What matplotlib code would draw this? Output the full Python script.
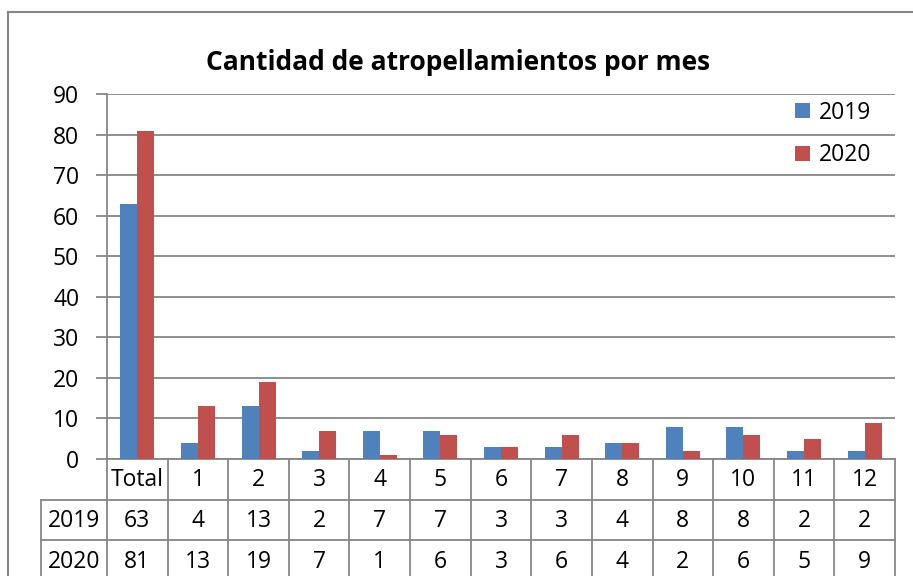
import numpy as np
import matplotlib.pyplot as plt
from matplotlib.lines import Line2D
from matplotlib.transforms import blended_transform_factory

plt.rcParams['font.family'] = ['Open Sans', 'DejaVu Sans']

categories = ['Total', '1', '2', '3', '4', '5', '6', '7', '8', '9', '10', '11', '12']
series_names = ['2019', '2020']
v2019 = [63, 4, 13, 2, 7, 7, 3, 3, 4, 8, 8, 2, 2]
v2020 = [81, 13, 19, 7, 1, 6, 3, 6, 4, 2, 6, 5, 9]
colors = ['#4F81BD', '#C0504D']
grid_col = '#868686'
fs = 16.5

W, H = 913, 576
fig = plt.figure(figsize=(W / 100, H / 100), dpi=100)
# plot area in pixels: x 107..895, y 94..459
ax = fig.add_axes([107 / W, (H - 459) / H, (895 - 107) / W, (459 - 94) / H])

x = np.arange(len(categories))
bw = 0.28
ax.bar(x - bw / 2, v2019, bw, color=colors[0], label=series_names[0], zorder=3)
ax.bar(x + bw / 2, v2020, bw, color=colors[1], label=series_names[1], zorder=3)

ax.set_xlim(-0.5, len(categories) - 0.5)
ax.set_ylim(0, 90)
ax.set_yticks(range(0, 91, 10))
ax.yaxis.grid(True, color=grid_col, lw=1.3, zorder=0)
ax.set_xticks([])
ax.tick_params(axis='y', length=8, width=1.3, color=grid_col, labelsize=fs, pad=12)
for s in ['top', 'right']:
    ax.spines[s].set_visible(False)
for s in ['left', 'bottom']:
    ax.spines[s].set_color(grid_col)
    ax.spines[s].set_linewidth(1.3)

ax.text(0.445, 1 + 31 / 365, 'Cantidad de atropellamientos por mes', fontsize=19,
        fontweight='bold', ha='center', va='center', transform=ax.transAxes)

leg = ax.legend(loc='upper right', bbox_to_anchor=(0.970, 0.981), frameon=False, fontsize=fs,
                borderaxespad=0, borderpad=0,
                handlelength=0.62, handleheight=0.62, handletextpad=0.4, labelspacing=0.8)

# data table below the axis
tr = blended_transform_factory(ax.transData, ax.transAxes)
rh = 40.5 / (459 - 94)
n = len(categories)
edges = np.arange(n + 1) - 0.5
lkw = dict(color=grid_col, lw=1.3, transform=tr, clip_on=False)
for e in edges:
    ax.add_line(Line2D([e, e], [0, -3.2 * rh], **lkw))
lab_x = -0.5 - 66 / 60.6
for k in (1, 2):
    ax.add_line(Line2D([lab_x, edges[-1]], [-k * rh, -k * rh], **lkw))
ax.add_line(Line2D([lab_x, lab_x], [-rh, -3.2 * rh], **lkw))

for i, c in enumerate(categories):
    ax.text(i, -0.52 * rh, c, ha='center', va='center', fontsize=fs, transform=tr)
    ax.text(i, -1.53 * rh, str(v2019[i]), ha='center', va='center', fontsize=fs, transform=tr)
    ax.text(i, -2.55 * rh, str(v2020[i]), ha='center', va='center', fontsize=fs, transform=tr)
for k, name in enumerate(series_names):
    ax.text((lab_x - 0.5) / 2, -(1.53 + 1.02 * k) * rh, name, ha='center', va='center',
            fontsize=fs, transform=tr)

# outer chart border (cropped on right and bottom)
fig.add_artist(Line2D([8 / W, 1], [1 - 12 / H, 1 - 12 / H], color=grid_col, lw=1.5))
fig.add_artist(Line2D([8 / W, 8 / W], [0, 1 - 12 / H], color=grid_col, lw=1.5))

fig.savefig('out.png', dpi=100, facecolor='white')
